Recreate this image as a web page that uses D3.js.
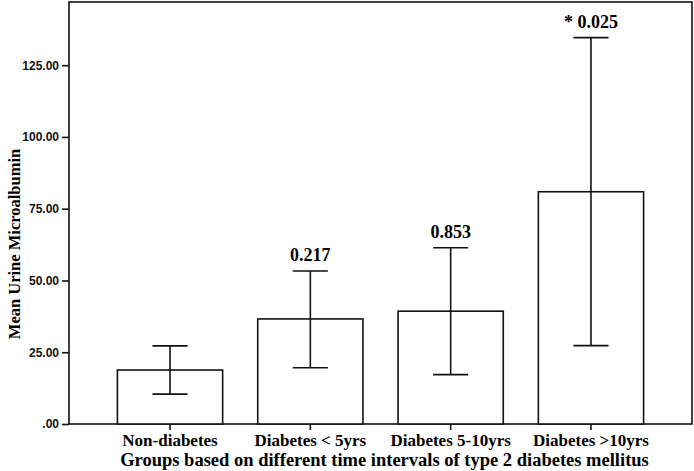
<!DOCTYPE html>
<html>
<head>
<meta charset="utf-8">
<script src="https://cdn.jsdelivr.net/npm/d3@7"></script>
<style>
  html, body { margin: 0; padding: 0; background: #fff; }
  svg { display: block; }
</style>
</head>
<body>
<svg id="chart" width="694" height="471"></svg>
<script>
const categories = ["Non-diabetes", "Diabetes < 5yrs", "Diabetes 5-10yrs", "Diabetes >10yrs"];
const means = [18.8, 36.6, 39.3, 80.9];
const upperCI = [27.2, 53.3, 61.4, 134.6];
const lowerCI = [10.4, 19.6, 17.2, 27.3];
const pLabels = ["", "0.217", "0.853", "* 0.025"];
const yTicks = [0, 25, 50, 75, 100, 125];
const yTickLabels = [".00", "25.00", "50.00", "75.00", "100.00", "125.00"];
const xTitle = "Groups based on different time intervals of type 2 diabetes mellitus";
const yTitle = "Mean Urine Microalbumin";

(function () {
const svg = d3.select("#chart");
const pL = 69, pR = 692, pT = 2, pB = 424;
const stroke = "#111";
const serif = "'Liberation Serif', 'Times New Roman', serif";

const x = d3.scaleBand().domain(categories).range([pL, pR])
  .paddingInner(0.25).paddingOuter(0.345);
const y = d3.scaleLinear().domain([0, 147]).range([pB, pT]);

// frame
svg.append("rect")
  .attr("x", pL).attr("y", pT)
  .attr("width", pR - pL).attr("height", pB - pT)
  .attr("fill", "none").attr("stroke", stroke).attr("stroke-width", 1.6);

// bars
svg.append("g").selectAll("rect").data(categories).join("rect")
  .attr("x", d => x(d)).attr("width", x.bandwidth())
  .attr("y", (d, i) => y(means[i]))
  .attr("height", (d, i) => y(0) - y(means[i]))
  .attr("fill", "#fff").attr("stroke", stroke).attr("stroke-width", 1.6);

// error bars
const capW = x.bandwidth() / 3;
const eg = svg.append("g").attr("stroke", stroke).attr("stroke-width", 1.6);
categories.forEach((c, i) => {
  const cx = x(c) + x.bandwidth() / 2;
  eg.append("line").attr("x1", cx).attr("x2", cx).attr("y1", y(lowerCI[i])).attr("y2", y(upperCI[i]));
  eg.append("line").attr("x1", cx - capW / 2).attr("x2", cx + capW / 2).attr("y1", y(upperCI[i])).attr("y2", y(upperCI[i]));
  eg.append("line").attr("x1", cx - capW / 2).attr("x2", cx + capW / 2).attr("y1", y(lowerCI[i])).attr("y2", y(lowerCI[i]));
});

// p labels
svg.append("g").selectAll("text").data(categories).join("text")
  .attr("x", d => x(d) + x.bandwidth() / 2)
  .attr("y", (d, i) => y(upperCI[i]) - 10)
  .attr("text-anchor", "middle")
  .attr("font-family", serif).attr("font-weight", "bold").attr("font-size", 18)
  .attr("fill", "#000")
  .text((d, i) => pLabels[i]);

// y axis
const yAxis = d3.axisLeft(y).tickValues(yTicks)
  .tickFormat((d, i) => yTickLabels[i]).tickSize(7).tickPadding(3);
const yg = svg.append("g").attr("transform", `translate(${pL},0)`).call(yAxis);
yg.select(".domain").remove();
yg.selectAll(".tick line").attr("stroke", stroke).attr("stroke-width", 1.6);
yg.selectAll(".tick text")
  .attr("font-family", "'Liberation Sans', Arial, sans-serif")
  .attr("font-weight", "bold").attr("font-size", 12).attr("fill", "#111");

// x axis
const xAxis = d3.axisBottom(x).tickSize(6).tickPadding(4);
const xg = svg.append("g").attr("transform", `translate(0,${pB})`).call(xAxis);
xg.select(".domain").remove();
xg.selectAll(".tick line").attr("stroke", stroke).attr("stroke-width", 1.6);
xg.selectAll(".tick text")
  .attr("font-family", serif).attr("font-weight", "bold").attr("font-size", 17).attr("fill", "#000");

// axis titles
svg.append("text")
  .attr("x", (pL + pR) / 2 + 4).attr("y", 466)
  .attr("text-anchor", "middle")
  .attr("font-family", serif).attr("font-weight", "bold").attr("font-size", 18.5)
  .text(xTitle);

svg.append("text")
  .attr("transform", `translate(20,${(pT + pB) / 2 + 31}) rotate(-90)`)
  .attr("text-anchor", "middle")
  .attr("font-family", serif).attr("font-weight", "bold").attr("font-size", 16.5)
  .text(yTitle);
})();
</script>
</body>
</html>
